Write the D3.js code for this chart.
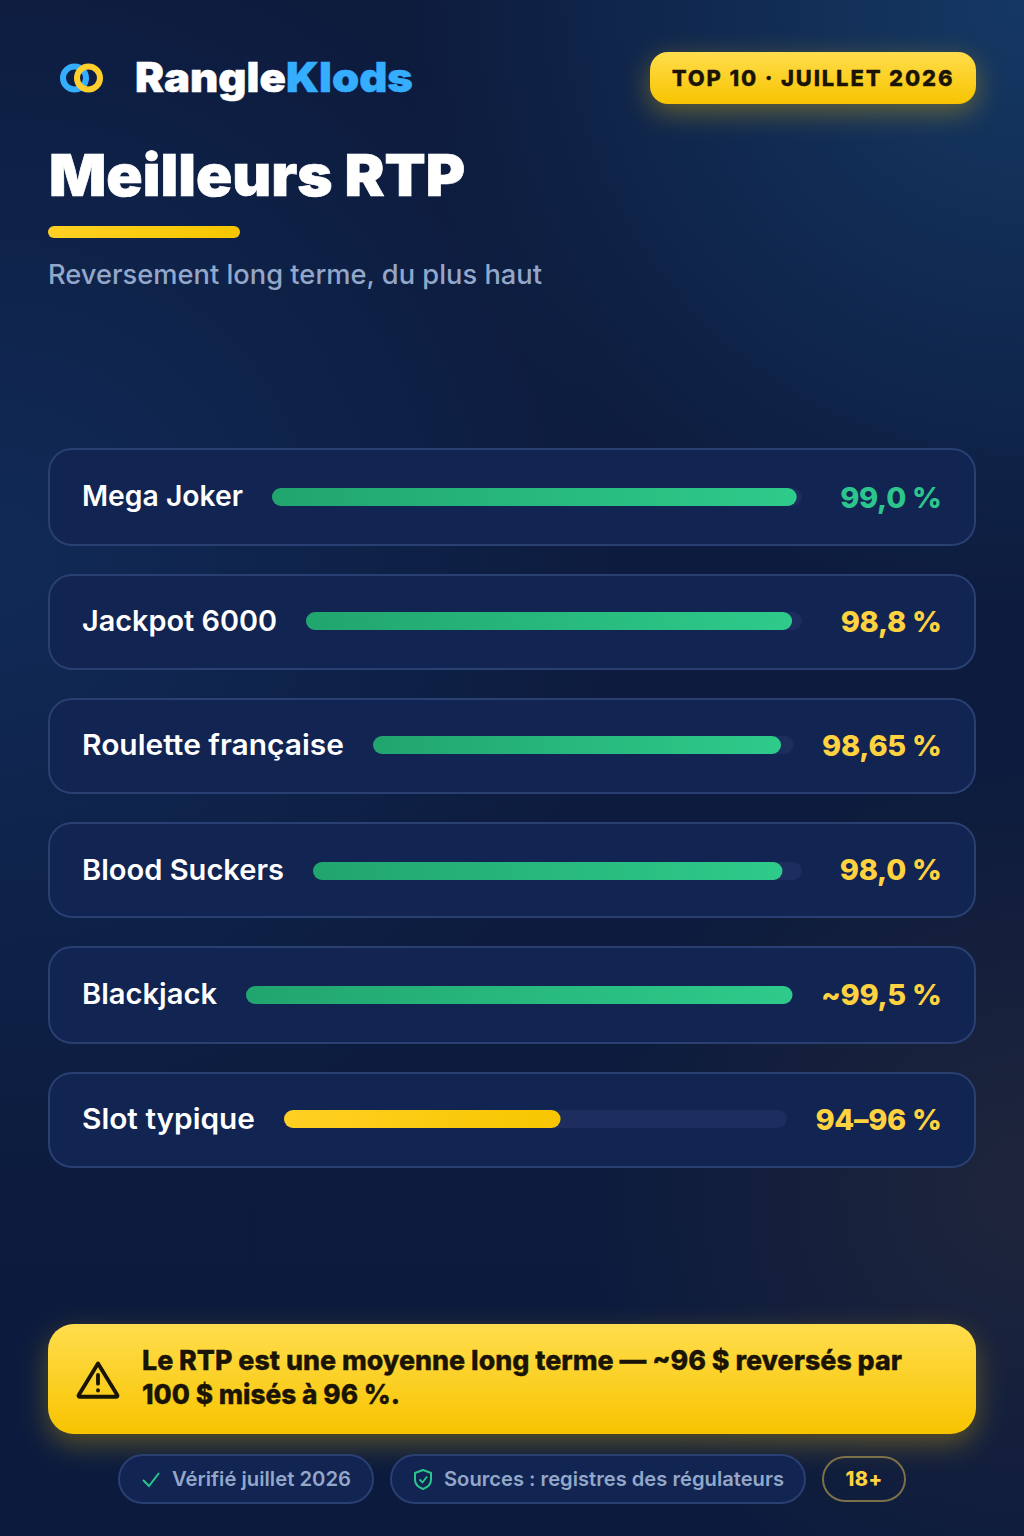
<!DOCTYPE html>
<html lang="fr"><head><meta charset="utf-8">
<script src="https://cdn.jsdelivr.net/npm/d3@7"></script>
<style>html,body{margin:0;padding:0;background:#0c1b3d}svg{display:block}text{font-family:Inter,"Noto Sans",sans-serif}</style>
</head><body><div id="chart"></div>
<script>
const games = ["Mega Joker","Jackpot 6000","Roulette française","Blood Suckers","Blackjack","Slot typique"];
const fillShare = [99,98,97,96,100,55];
const valueLabels = ["99,0 %","98,8 %","98,65 %","98,0 %","~99,5 %","94–96 %"];
const valueColors = ["#2cc68c","#ffd23f","#ffd23f","#ffd23f","#ffd23f","#ffd23f"];
const fillKinds = ["g","g","g","g","g","y"];
const rowHeights = [98,96,96,96,98,96];

// layout constants (not data)
const labelFit=[161,195,262,202,135,173];
const trackShift=[0,-1,-1,1,0,-1];
const labelShift=[9,9,9,10,8.5,9];
const valueShift=[11,10,10,10,10,10];

const W=1024,H=1536;
const svg=d3.select("#chart").append("svg").attr("width",W).attr("height",H).attr("viewBox",`0 0 ${W} ${H}`);
const defs=svg.append("defs");
function lin(id,stops,x2=0,y2=1,x1=0,y1=0){const g=defs.append("linearGradient").attr("id",id).attr("x1",x1).attr("y1",y1).attr("x2",x2).attr("y2",y2);
  stops.forEach(s=>g.append("stop").attr("offset",s[0]).attr("stop-color",s[1]).attr("stop-opacity",s[2]??1));}
function rad(id,cx,cy,r,stops){const g=defs.append("radialGradient").attr("id",id).attr("gradientUnits","userSpaceOnUse").attr("cx",cx).attr("cy",cy).attr("r",r);
  stops.forEach(s=>g.append("stop").attr("offset",s[0]).attr("stop-color",s[1]).attr("stop-opacity",s[2]??1));}
lin("bg",[[0,"#0d1b3d"],[1,"#0c1b3d"]]);
rad("glowTR",1024,0,620,[[0,"#153a66",0.95],[1,"#153a66",0]]);
rad("glowL",0,560,640,[[0,"#133468",0.6],[1,"#133468",0]]);
rad("glowBR",1024,1190,430,[[0,"#2b2c3a",0.6],[1,"#2b2c3a",0]]);
lin("yellowV",[[0,"#ffdd4d"],[1,"#f8c400"]]);
lin("yellowH",[[0,"#ffd023"],[1,"#f7c600"]],1,0);
lin("greenH",[[0,"#21a56e"],[1,"#2ecb8b"]],1,0);
const f=defs.append("filter").attr("id","glow").attr("x","-20%").attr("y","-60%").attr("width","140%").attr("height","240%");
f.append("feGaussianBlur").attr("stdDeviation",14);

svg.append("rect").attr("width",W).attr("height",H).attr("fill","url(#bg)");
["glowTR","glowL","glowBR"].forEach(g=>svg.append("rect").attr("width",W).attr("height",H).attr("fill",`url(#${g})`));

function fit(sel,w){return sel.attr("textLength",w).attr("lengthAdjust","spacingAndGlyphs");}

// logo
const logo=svg.append("g").attr("fill","none").attr("stroke-width",6);
logo.append("circle").attr("cx",74.5).attr("cy",78).attr("r",11.5).attr("stroke","#35aeff");
logo.append("circle").attr("cx",88.5).attr("cy",78).attr("r",11.5).attr("stroke","#ffcf2e");
const brand=svg.append("text").attr("x",135).attr("y",92).attr("font-size",41).attr("font-weight",900);
brand.append("tspan").attr("fill","#fff").attr("stroke","#fff").attr("stroke-width",.5).text("Rangle");
brand.append("tspan").attr("fill","#35aeff").attr("stroke","#35aeff").attr("stroke-width",.5).text("Klods");
fit(brand,278);

// top badge
svg.append("rect").attr("x",650).attr("y",60).attr("width",326).attr("height",52).attr("rx",18).attr("fill","#ffc800").attr("opacity",.35).attr("filter","url(#glow)");
svg.append("rect").attr("x",650).attr("y",52).attr("width",326).attr("height",52).attr("rx",18).attr("fill","url(#yellowV)");
svg.append("text").attr("x",813).attr("y",86).attr("text-anchor","middle").attr("font-size",22).attr("font-weight",800).attr("letter-spacing",1.85).attr("fill","#1a1405").attr("stroke","#1a1405").attr("stroke-width",.3).text("TOP 10 · JUILLET 2026");

// title
fit(svg.append("text").attr("x",49).attr("y",196).attr("font-size",58).attr("font-weight",900).attr("fill","#fff").attr("stroke","#fff").attr("stroke-width",.7).text("Meilleurs RTP"),416);
svg.append("rect").attr("x",48).attr("y",226).attr("width",192).attr("height",12).attr("rx",6).attr("fill","url(#yellowH)");
fit(svg.append("text").attr("x",48).attr("y",284).attr("font-size",27).attr("font-weight",500).attr("fill","#93a7c9").text("Reversement long terme, du plus haut"),494);

// rows
const rowGap=28, rowTop=448;
const tops=rowHeights.map((h,i)=>rowTop+d3.sum(rowHeights.slice(0,i))+i*rowGap);
games.forEach((g,i)=>{
  const top=tops[i],h=rowHeights[i],mid=top+h/2,cy=mid+trackShift[i];
  const row=svg.append("g").attr("class","row");
  row.append("rect").attr("x",49).attr("y",top+1).attr("width",926).attr("height",h-2).attr("rx",23)
    .attr("fill","#112452").attr("stroke","#2a3f72").attr("stroke-width",2);
  fit(row.append("text").attr("x",82).attr("y",mid+labelShift[i]).attr("font-size",28.5).attr("font-weight",600).attr("fill","#fff").text(g),labelFit[i]);
  const val=row.append("text").attr("x",941.5).attr("y",mid+valueShift[i]).attr("text-anchor","end").attr("font-size",29).attr("font-weight",800).attr("letter-spacing",-.3).attr("fill",valueColors[i]).text(valueLabels[i]);
  const lw=labelFit[i], vw=val.node().getComputedTextLength();
  const x0=82+lw+29, x1=941-Math.max(111,vw)-28;
  const x=d3.scaleLinear().domain([0,100]).range([x0,x1]);
  const ty=cy-9;
  row.append("rect").attr("x",x(0)).attr("y",ty).attr("width",x(100)-x(0)).attr("height",18).attr("rx",9).attr("fill","#1d2d5d");
  row.append("rect").attr("x",x(0)).attr("y",ty).attr("width",x(fillShare[i])-x(0)).attr("height",18).attr("rx",9)
    .attr("fill",fillKinds[i]=="g"?"url(#greenH)":"url(#yellowH)");
});

// warning band
svg.append("rect").attr("x",48).attr("y",1334).attr("width",928).attr("height",110).attr("rx",26).attr("fill","#ffc800").attr("opacity",.3).attr("filter","url(#glow)");
svg.append("rect").attr("x",48).attr("y",1324).attr("width",928).attr("height",110).attr("rx",26).attr("fill","url(#yellowV)");
const warn=svg.append("g").attr("transform","translate(77,1360) scale(1.75)").attr("fill","none").attr("stroke","#1a1405").attr("stroke-width",2.2).attr("stroke-linecap","round").attr("stroke-linejoin","round");
warn.append("path").attr("d","M12 2 L23 20 A0.6 0.6 0 0 1 22.5 21 L1.5 21 A0.6 0.6 0 0 1 1 20 Z");
warn.append("path").attr("d","M12 8.5 V13.5");
warn.append("path").attr("d","M12 17.3 V17.4");
const noteLines=["Le RTP est une moyenne long terme — ~96 $ reversés par","100 $ misés à 96 %."];
const noteFit=[760,258];
noteLines.forEach((t,i)=>fit(svg.append("text").attr("x",142).attr("y",1370+i*34).attr("font-size",27.5).attr("font-weight",800).attr("fill","#1a1405").attr("stroke","#1a1405").attr("stroke-width",.35).text(t),noteFit[i]));

// pills
function pill(x,y,w,h,fill,stroke){svg.append("rect").attr("x",x+1).attr("y",y+1).attr("width",w-2).attr("height",h-2).attr("rx",(h-2)/2).attr("fill",fill).attr("stroke",stroke).attr("stroke-width",2);}
pill(118,1454,256,50,"#112452","#2a3f72");
svg.append("path").attr("d","M143 1480 L149 1486 L159 1473").attr("fill","none").attr("stroke","#2cc68c").attr("stroke-width",2);
fit(svg.append("text").attr("x",172).attr("y",1486).attr("font-size",20).attr("font-weight",600).attr("fill","#93a7c9").text("Vérifié juillet 2026"),179);
pill(390,1454,416,50,"#112452","#2a3f72");
svg.append("path").attr("d","M423 1470 L431 1473 V1480 C431 1484 428 1487 423 1489 C418 1487 415 1484 415 1480 V1473 Z").attr("fill","none").attr("stroke","#2cc68c").attr("stroke-width",2).attr("stroke-linejoin","round");
svg.append("path").attr("d","M419.5 1479.5 L422.5 1482.5 L427 1476.5").attr("fill","none").attr("stroke","#2cc68c").attr("stroke-width",1.8);
fit(svg.append("text").attr("x",444).attr("y",1486).attr("font-size",20).attr("font-weight",600).attr("fill","#93a7c9").text("Sources : registres des régulateurs"),340);
pill(822,1456,84,46,"none","#7b7148");
svg.append("text").attr("x",864).attr("y",1486).attr("text-anchor","middle").attr("font-size",20).attr("font-weight",800).attr("letter-spacing",.4).attr("fill","#ffd23f").text("18+");
</script></body></html>
